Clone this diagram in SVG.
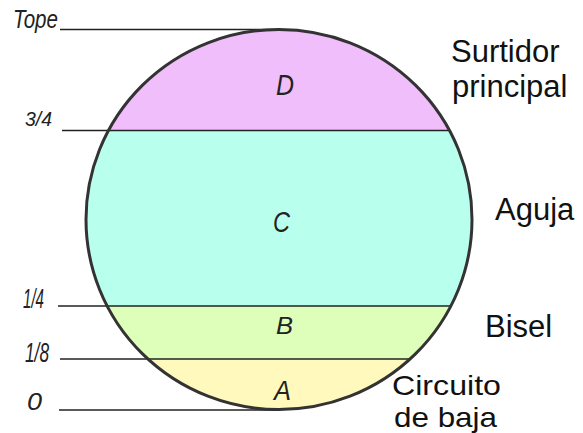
<svg xmlns="http://www.w3.org/2000/svg" width="583" height="433" viewBox="0 0 583 433">
<style>
.hand{font-family:"Liberation Sans",Arial,sans-serif;font-style:italic;fill:#222}
.lbl{font-family:"Liberation Sans",Arial,sans-serif;font-size:31px;fill:#111}
.lead{stroke:#222;stroke-width:1.5;fill:none}
</style>
<defs>
<clipPath id="disc"><ellipse cx="279" cy="219.5" rx="193" ry="190"/></clipPath>
</defs>
<rect width="583" height="433" fill="#fff"/>
<g id="bands" clip-path="url(#disc)">
<g id="band-D"><rect x="80" y="20" width="400" height="110.5" fill="#F0BEFA"/></g>
<g id="band-C"><rect x="80" y="130.5" width="400" height="175.5" fill="#B9FFEE"/></g>
<g id="band-B"><rect x="80" y="306" width="400" height="53" fill="#DDFFBA"/></g>
<g id="band-A"><rect x="80" y="359" width="400" height="60" fill="#FFF9BE"/></g>
</g>
<g id="connectors">
<line class="lead" x1="60" y1="29.5" x2="279" y2="29.5"/>
<line class="lead" x1="62" y1="130.5" x2="449.5" y2="130.5"/>
<line class="lead" x1="58" y1="306" x2="451" y2="306"/>
<line class="lead" x1="60" y1="359" x2="410" y2="359"/>
<line class="lead" x1="59" y1="410" x2="279" y2="410"/>
</g>
<g id="circle"><ellipse cx="279" cy="219.5" rx="193" ry="190" fill="none" stroke="#333" stroke-width="3"/></g>
<g id="letters" class="hand">
<text x="276" y="95" font-size="30" textLength="18" lengthAdjust="spacingAndGlyphs">D</text>
<text x="273" y="232" font-size="30" textLength="17" lengthAdjust="spacingAndGlyphs">C</text>
<text x="276" y="334" font-size="24" textLength="17" lengthAdjust="spacingAndGlyphs">B</text>
<text x="274" y="400" font-size="27" textLength="17" lengthAdjust="spacingAndGlyphs">A</text>
</g>
<g id="scale" class="hand">
<text x="13" y="28" font-size="25" textLength="45" lengthAdjust="spacingAndGlyphs">Tope</text>
<text x="25" y="126" font-size="20" textLength="27" lengthAdjust="spacingAndGlyphs">3/4</text>
<text x="23" y="308" font-size="28" textLength="21" lengthAdjust="spacingAndGlyphs">1/4</text>
<text x="25" y="362" font-size="28" textLength="24" lengthAdjust="spacingAndGlyphs">1/8</text>
<text x="27" y="410" font-size="24" textLength="15" lengthAdjust="spacingAndGlyphs">0</text>
</g>
<g id="right-labels" class="lbl">
<text x="451" y="62">Surtidor</text>
<text x="452" y="97">principal</text>
<text x="495" y="220">Aguja</text>
<text x="485" y="337">Bisel</text>
<text x="392" y="395" font-size="28" textLength="109" lengthAdjust="spacingAndGlyphs">Circuito</text>
<text x="394" y="426.5" font-size="28" textLength="103" lengthAdjust="spacingAndGlyphs">de baja</text>
</g>
</svg>
